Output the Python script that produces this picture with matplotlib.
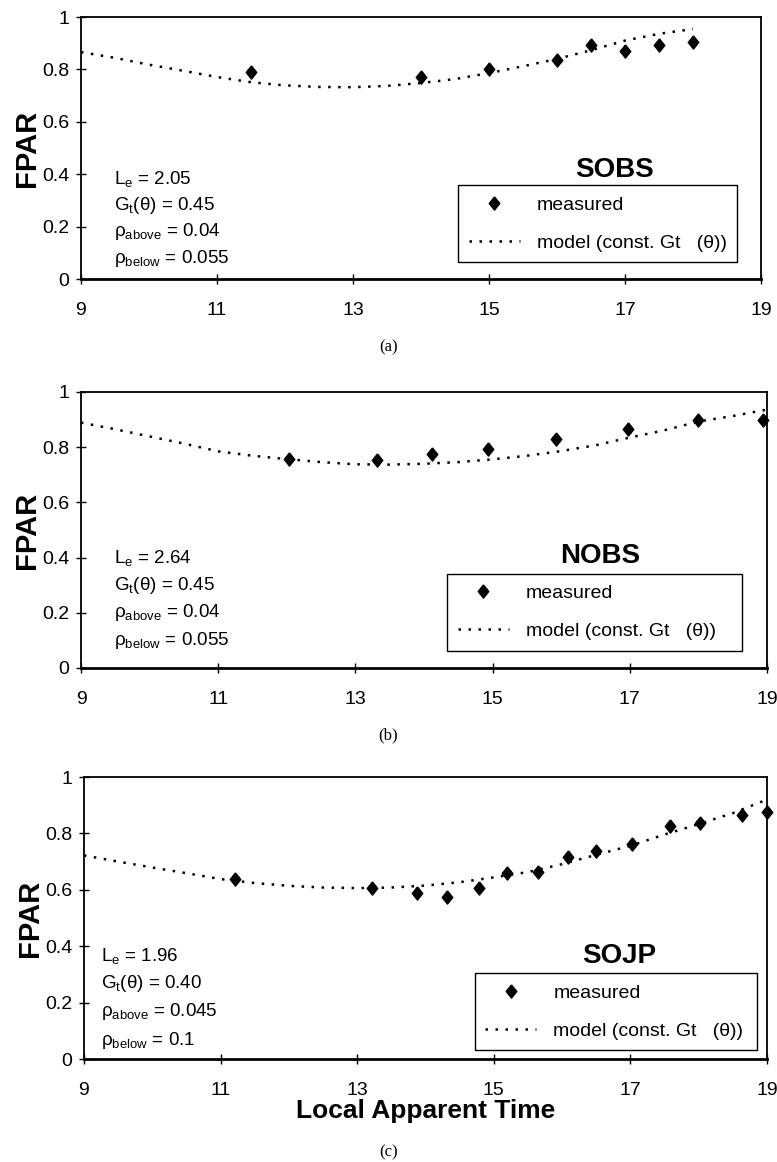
import matplotlib
matplotlib.use("Agg")
import matplotlib.pyplot as plt
from matplotlib import font_manager as fm

names = {f.name for f in fm.fontManager.ttflist}
FONT = "Liberation Sans Narrow" if "Liberation Sans Narrow" in names else "Liberation Sans"
plt.rcParams['font.family'] = [FONT, 'DejaVu Sans']
plt.rcParams['mathtext.fontset'] = 'custom'
plt.rcParams['mathtext.rm'] = FONT
plt.rcParams['mathtext.it'] = FONT

# ---------------- data ----------------
# (a) SOBS
a_meas_x = [11.5, 14.0, 15.0, 16.0, 16.5, 17.0, 17.5, 18.0]
a_meas_y = [0.789, 0.771, 0.800, 0.836, 0.892, 0.871, 0.893, 0.905]
a_model_x = [9, 9.5, 10, 10.5, 11, 11.5, 12, 12.5, 13, 13.5, 14, 14.5, 15, 15.5, 16, 16.5, 17, 17.5, 18]
a_model_y = [0.866, 0.844, 0.818, 0.795, 0.771, 0.751, 0.739, 0.733, 0.732, 0.737, 0.748, 0.763,
             0.786, 0.812, 0.840, 0.873, 0.910, 0.936, 0.954]
a_params = [r"L$_\mathrm{e}$ = 2.05", r"G$_\mathrm{t}$(θ) = 0.45",
            r"ρ$_\mathrm{above}$ = 0.04", r"ρ$_\mathrm{below}$ = 0.055"]

# (b) NOBS
b_meas_x = [12.03, 13.32, 14.12, 14.93, 15.92, 16.98, 18.0, 18.94]
b_meas_y = [0.756, 0.752, 0.774, 0.792, 0.829, 0.866, 0.900, 0.900]
b_model_x = [9, 9.5, 10, 10.5, 11, 11.5, 12, 12.5, 13, 13.5, 14, 14.5, 15, 15.5, 16, 16.5, 17, 17.5, 18, 18.5, 19]
b_model_y = [0.889, 0.865, 0.839, 0.813, 0.785, 0.769, 0.757, 0.746, 0.738, 0.737, 0.740, 0.746,
             0.756, 0.769, 0.786, 0.807, 0.835, 0.861, 0.893, 0.913, 0.936]
b_params = [r"L$_\mathrm{e}$ = 2.64", r"G$_\mathrm{t}$(θ) = 0.45",
            r"ρ$_\mathrm{above}$ = 0.04", r"ρ$_\mathrm{below}$ = 0.055"]

# (c) SOJP
c_meas_x = [11.21, 13.22, 13.88, 14.32, 14.79, 15.20, 15.64, 16.08, 16.50, 17.02, 17.58, 18.02, 18.63, 19.0]
c_meas_y = [0.639, 0.605, 0.590, 0.573, 0.607, 0.658, 0.664, 0.715, 0.738, 0.761, 0.827, 0.838, 0.867, 0.876]
c_model_x = [9, 9.5, 10, 10.5, 11, 11.5, 12, 12.5, 13, 13.5, 14, 14.5, 15, 15.5, 16, 16.5, 17, 17.5, 18, 18.5, 19]
c_model_y = [0.722, 0.700, 0.679, 0.659, 0.638, 0.624, 0.614, 0.608, 0.606, 0.608, 0.615, 0.627,
             0.644, 0.663, 0.691, 0.724, 0.756, 0.796, 0.833, 0.872, 0.920]
c_params = [r"L$_\mathrm{e}$ = 1.96", r"G$_\mathrm{t}$(θ) = 0.40",
            r"ρ$_\mathrm{above}$ = 0.045", r"ρ$_\mathrm{below}$ = 0.1"]

x_ticks = [9, 11, 13, 15, 17, 19]
y_ticks = [0, 0.2, 0.4, 0.6, 0.8, 1.0]
y_ticklabels = ["0", "0.2", "0.4", "0.6", "0.8", "1"]
sites = ["SOBS", "NOBS", "SOJP"]
panel_labels = ["(a)", "(b)", "(c)"]
legend_labels = ["measured", "model (const. Gt   (θ))"]

# ---------------- figure ----------------
W, H = 777, 1162
fig = plt.figure(figsize=(W / 100, H / 100), dpi=100)

def rect(l, r, t, b):
    return [l / W, 1 - b / H, (r - l) / W, (b - t) / H]

diamond = [(0, 1), (0.8, 0), (0, -1), (-0.8, 0), (0, 1)]

panels = [
    dict(rect=rect(81, 761, 17, 279), mx=a_meas_x, my=a_meas_y, lx=a_model_x, ly=a_model_y,
         params=a_params, px=9.48, py0=0.38, site_xy=(16.85, 0.415),
         leg=(0.555, 0.048, 0.409, 0.309), lab_y=347, xlabel=False),
    dict(rect=rect(81, 767, 392, 668), mx=b_meas_x, my=b_meas_y, lx=b_model_x, ly=b_model_y,
         params=b_params, px=9.48, py0=0.40, site_xy=(16.57, 0.405),
         leg=(0.534, 0.046, 0.430, 0.296), lab_y=735, xlabel=False),
    dict(rect=rect(84, 767, 777, 1059), mx=c_meas_x, my=c_meas_y, lx=c_model_x, ly=c_model_y,
         params=c_params, px=9.25, py0=0.367, site_xy=(16.84, 0.365),
         leg=(0.572, 0.047, 0.414, 0.257), lab_y=1152, xlabel=True),
]

for i, p in enumerate(panels):
    ax = fig.add_axes(p['rect'])
    ax.plot(p['lx'], p['ly'], linestyle=(0, (1, 3)), color='black', linewidth=1.8,
            label=legend_labels[1], clip_on=False)
    ax.plot(p['mx'], p['my'], linestyle='none', marker=diamond, markersize=9.5,
            color='black', label=legend_labels[0], clip_on=False, zorder=3)
    ax.set_xlim(9, 19)
    ax.set_ylim(0, 1)
    ax.set_xticks(x_ticks)
    ax.set_yticks(y_ticks)
    ax.set_yticklabels(y_ticklabels)
    ax.tick_params(direction='inout', length=7, width=1, labelsize=14, color='black')
    ax.tick_params(axis='x', pad=13)
    ax.tick_params(axis='y', pad=5)
    for s in ['top', 'right', 'left']:
        ax.spines[s].set_linewidth(1.3)
    ax.spines['bottom'].set_linewidth(2.0)
    ax.set_ylabel("FPAR", fontsize=21, fontweight='bold', labelpad=1)

    for k, t in enumerate(p['params']):
        ax.text(p['px'], p['py0'] - 0.1 * k, t, fontsize=13.5, ha='left', va='center')
    ax.text(p['site_xy'][0], p['site_xy'][1], sites[i], fontsize=20, fontweight='bold',
            ha='center', va='center')

    h, l = ax.get_legend_handles_labels()
    leg = ax.legend([h[1], h[0]], [l[1], l[0]], loc='upper left',
                    bbox_to_anchor=p['leg'], mode='expand', fancybox=False,
                    edgecolor='black', framealpha=1, fontsize=14, handlelength=2.6,
                    handletextpad=0.9, labelspacing=1.05, borderpad=0.55,
                    borderaxespad=0)
    leg.get_frame().set_linewidth(1.0)

    if p['xlabel']:
        ax.set_xlabel("Local Apparent Time", fontsize=19, fontweight='bold', labelpad=0)

    fig.text(0.5, 1 - p['lab_y'] / H, panel_labels[i], fontsize=12,
             family='Liberation Serif', ha='center', va='center')

fig.savefig("out.png", dpi=100)
